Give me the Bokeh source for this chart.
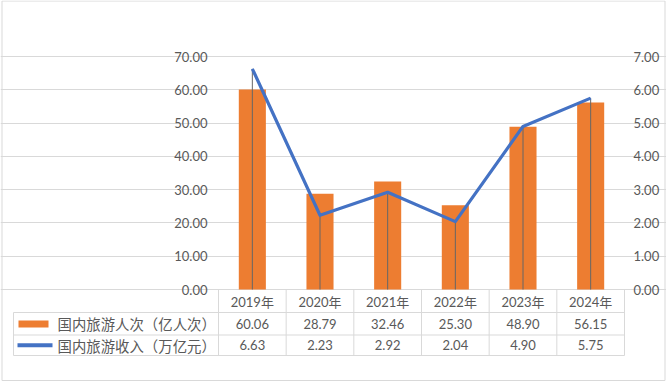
from bokeh.plotting import figure
from bokeh.models import Range1d, LinearAxis, FixedTicker, NumeralTickFormatter
from bokeh.core.properties import value
from bokeh.embed import file_html
from bokeh.resources import INLINE

# ---- data ----
years = ["2019年", "2020年", "2021年", "2022年", "2023年", "2024年"]
visitors = [60.06, 28.79, 32.46, 25.30, 48.90, 56.15]   # 国内旅游人次（亿人次）
income = [6.63, 2.23, 2.92, 2.04, 4.90, 5.75]           # 国内旅游收入（万亿元）
series_names = ["国内旅游人次（亿人次）", "国内旅游收入（万亿元）"]
left_ticks = [0, 10, 20, 30, 40, 50, 60, 70]
right_ticks = [0, 1, 2, 3, 4, 5, 6, 7]

# ---- style ----
ORANGE = "#ED7D31"
BLUE = "#4472C4"
GRID = "#D9D9D9"
TXT = "#595959"
DROP = "#666666"
NUM_FONT = "Lato"
CJK_FONT = "'Noto Sans CJK SC'"
MIX_FONT = "Lato, 'Noto Sans CJK SC'"

W, H = 666, 382
n = len(years)
xs = list(range(n))

# layout helpers: the frame covers the whole canvas; plot area is
# x in [218, 624] px, y in [56, 289] px
PX0, PX1, PY0, PY1 = 218, 624, 56, 289
cat_w = (PX1 - PX0) / n
unit_l = (PY1 - PY0) / 70.0          # px per left-axis unit
def fx(px):
    return -0.5 + (px - PX0) / cat_w
def fy(py):
    return -(py - PY1) / unit_l

p = figure(width=W, height=H,
           x_range=Range1d(fx(0), fx(W)), y_range=Range1d(fy(H), fy(0)),
           output_backend="svg", toolbar_location=None,
           min_border_left=0, min_border_right=0,
           min_border_top=0, min_border_bottom=0)
p.extra_y_ranges = {"right": Range1d(fy(H) / 10, fy(0) / 10)}
p.outline_line_color = None
p.background_fill_color = "white"
p.border_fill_color = "white"

# outer chart border
p.quad(left=[fx(1.5)], right=[fx(664.5)], top=[fy(0.5)], bottom=[fy(380)],
       fill_color=None, line_color=GRID, line_width=1)

# left axis
lt = FixedTicker(ticks=left_ticks)
ya = p.yaxis[0]
ya.fixed_location = -0.5
ya.ticker = lt
ya.formatter = NumeralTickFormatter(format="0.00")
ya.axis_line_color = None
ya.major_tick_line_color = None
ya.major_tick_out = 0
ya.major_tick_in = 0
ya.minor_tick_line_color = None
ya.minor_tick_out = 0
ya.major_label_standoff = 11
ya.major_label_text_font = NUM_FONT
ya.major_label_text_font_size = "13px"
ya.major_label_text_color = TXT

p.ygrid.ticker = lt
p.ygrid.bounds = (-0.5, n - 0.5)
p.ygrid.grid_line_color = GRID
p.xgrid.visible = False

# right axis
ra = LinearAxis(y_range_name="right", fixed_location=n - 0.5,
                ticker=FixedTicker(ticks=right_ticks),
                formatter=NumeralTickFormatter(format="0.00"),
                axis_line_color=None, major_tick_line_color=None,
                major_tick_out=0, major_tick_in=0,
                minor_tick_line_color=None, minor_tick_out=0,
                major_label_standoff=9,
                major_label_text_font=NUM_FONT,
                major_label_text_font_size="13px",
                major_label_text_color=TXT)
p.add_layout(ra, "right")

# bottom axis = header row of the data table
xa = p.xaxis[0]
xa.fixed_location = 0
xa.ticker = FixedTicker(ticks=xs)
xa.major_label_overrides = {i: years[i] for i in xs}
xa.axis_line_color = None
xa.major_tick_line_color = None
xa.major_tick_out = 0
xa.major_tick_in = 0
xa.minor_tick_line_color = None
xa.minor_tick_out = 0
xa.major_label_standoff = 4
xa.major_label_text_font = MIX_FONT
xa.major_label_text_font_size = "13px"
xa.major_label_text_color = TXT

# ---- data table rules ----
r1, r2, r3 = fy(312), fy(334.5), fy(355)
tl = fx(13)
p.segment(x0=[tl] * 3, y0=[r1, r2, r3], x1=[n - 0.5] * 3, y1=[r1, r2, r3],
          line_color=GRID, line_width=1)
vx = [i - 0.5 for i in range(n + 1)]
p.segment(x0=vx, y0=[0] * len(vx), x1=vx, y1=[r3] * len(vx),
          line_color=GRID, line_width=1)
p.segment(x0=[tl], y0=[r1], x1=[tl], y1=[r3], line_color=GRID, line_width=1)

# ---- bars, drop lines, line ----
p.vbar(x=xs, top=visitors, width=0.4, fill_color=ORANGE, line_color=None)
p.segment(x0=xs, y0=[0] * n, x1=xs, y1=income, y_range_name="right",
          line_color=DROP, line_width=1)
p.line(x=xs, y=income, y_range_name="right", line_color=BLUE, line_width=3.2,
       line_join="round")

# ---- table values ----
row1_y = (r1 + r2) / 2
row2_y = (r2 + r3) / 2
p.text(x=xs, y=[row1_y] * n, text=[f"{v:.2f}" for v in visitors],
       text_align="center", text_baseline="middle",
       text_font=value(NUM_FONT), text_font_size="13px", text_color=TXT)
p.text(x=xs, y=[row2_y] * n, text=[f"{v:.2f}" for v in income],
       text_align="center", text_baseline="middle",
       text_font=value(NUM_FONT), text_font_size="13px", text_color=TXT)

# ---- legend keys inside the table ----
p.quad(left=[fx(18)], right=[fx(48)], top=[fy(320)], bottom=[fy(327)],
       fill_color=ORANGE, line_color=None)
p.segment(x0=[fx(17)], y0=[row2_y], x1=[fx(52)], y1=[row2_y],
          line_color=BLUE, line_width=4)
p.text(x=[fx(57)] * 2, y=[row1_y, row2_y], text=series_names,
       text_align="left", text_baseline="middle",
       text_font=value(CJK_FONT), text_font_size="14.4px", text_color=TXT)

open("out.html", "w").write(file_html(p, INLINE))
